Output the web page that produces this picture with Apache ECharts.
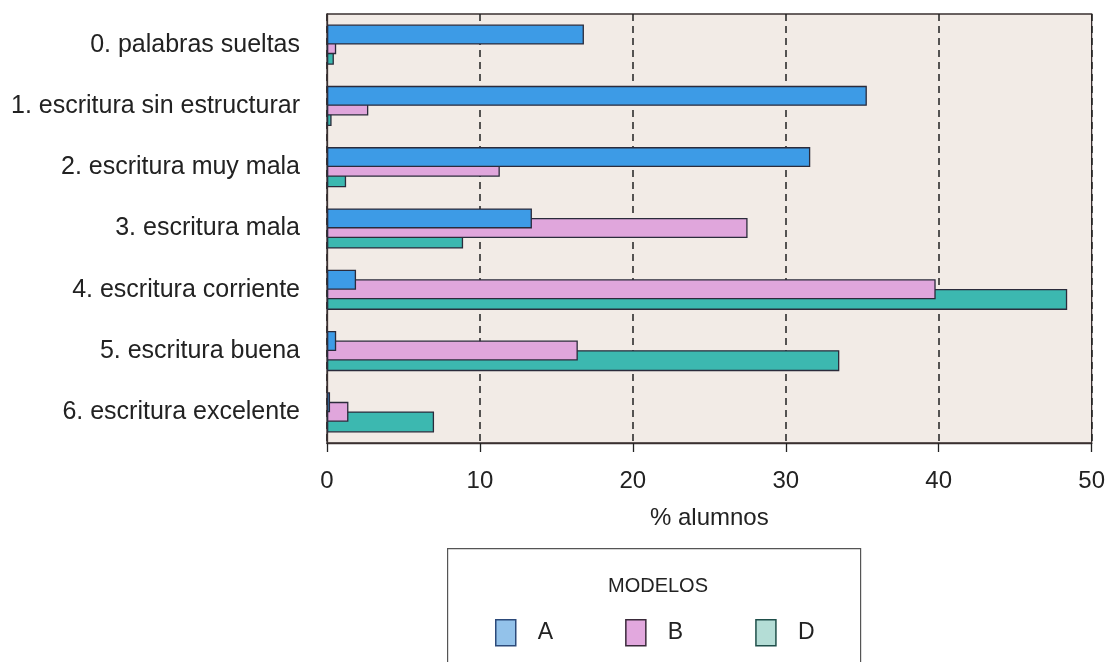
<!DOCTYPE html>
<html>
<head>
<meta charset="utf-8">
<style>
  html, body { margin: 0; padding: 0; background: #fff; }
  #chart { width: 1108px; height: 662px; }
</style>
<script src="https://cdn.jsdelivr.net/npm/echarts@6/dist/echarts.min.js"></script>
</head>
<body>
<div id="chart"></div>
<script>
// categories, top to bottom
var categorias = [
  "0. palabras sueltas",
  "1. escritura sin estructurar",
  "2. escritura muy mala",
  "3. escritura mala",
  "4. escritura corriente",
  "5. escritura buena",
  "6. escritura excelente"
];
// % alumnos per model
var modeloA = [16.8, 35.3, 31.6, 13.4, 1.9, 0.6, 0.2];
var modeloB = [0.6, 2.7, 11.3, 27.5, 39.8, 16.4, 1.4];
var modeloD = [0.45, 0.3, 1.25, 8.9, 48.4, 33.5, 7.0];
var ticksX = [0, 10, 20, 30, 40, 50];

var fuente = "'Liberation Sans', Arial, sans-serif";
var borde = "#2b2b3b";

var chart = echarts.init(document.getElementById("chart"));

function serie(name, data, color, z, ancho) {
  return {
    name: name,
    type: "bar",
    data: data,
    barWidth: ancho,
    barGap: "-52%",
    z: z,
    itemStyle: {
      color: color,
      borderColor: borde,
      borderWidth: 1.3,
    },
  };
}

var options = {
  backgroundColor: "#ffffff",
  animation: false,
  textStyle: { fontFamily: fuente },
  title: {
    text: "MODELOS",
    left: 653,
    top: 571,
    textAlign: "center",
    textStyle: {
      fontFamily: fuente,
      fontSize: 20,
      fontWeight: "normal",
      color: "#222",
    },
  },
  legend: {
    data: [
      { name: "A", itemStyle: { color: "#93c2ea", borderColor: "#2c4a7a", borderWidth: 1.5 } },
      { name: "B", itemStyle: { color: "#e2a8de", borderColor: "#3a2a3a", borderWidth: 1.5 } },
      { name: "D", itemStyle: { color: "#b4ddd6", borderColor: "#1f4f4a", borderWidth: 1.5 } },
    ],
    left: 490,
    top: 614,
    icon: "rect",
    itemWidth: 20,
    itemHeight: 26,
    itemGap: 72,
    textStyle: {
      fontFamily: fuente,
      fontSize: 23,
      color: "#222",
      padding: [0, 0, 0, 17],
    },
  },
  graphic: [
    {
      type: "rect",
      left: 447,
      top: 548,
      shape: { width: 413, height: 140 },
      style: { fill: "#fff", stroke: "#555", lineWidth: 1.2 },
      z: -1,
    },
  ],
  grid: {
    left: 327,
    right: 15,
    top: 14,
    bottom: 219,
    show: true,
    backgroundColor: "#f2ebe6",
    borderColor: "#3a3030",
    borderWidth: 1.3,
  },
  xAxis: {
    type: "value",
    min: ticksX[0],
    max: ticksX[ticksX.length - 1],
    interval: 10,
    name: "% alumnos",
    nameLocation: "middle",
    nameGap: 63,
    nameTextStyle: { fontFamily: fuente, fontSize: 24, color: "#222" },
    axisLine: { show: true, lineStyle: { color: "#3a3030", width: 1.3 } },
    axisTick: { show: true, length: 9, lineStyle: { color: "#222", width: 1.3 } },
    axisLabel: {
      fontFamily: fuente,
      fontSize: 24,
      color: "#222",
      margin: 26,
    },
    splitLine: {
      show: true,
      lineStyle: { color: "#222", width: 1.5, type: [7, 5] },
    },
  },
  yAxis: {
    type: "category",
    data: categorias,
    inverse: true,
    axisLine: { show: true, lineStyle: { color: "#3a3030", width: 1.3 } },
    axisTick: { show: false },
    axisLabel: {
      fontFamily: fuente,
      fontSize: 25,
      color: "#222",
      margin: 27,
    },
    splitLine: { show: false },
  },
  series: [
    serie("A", modeloA, "#3d9be6", 5, 20),
    serie("B", modeloB, "#e0a6dc", 4, 20),
    serie("D", modeloD, "#3cb8b0", 3, 21),
  ],
};

chart.setOption(options);
window.addEventListener("resize", function () {
  chart.resize();
});
</script>
</body>
</html>
